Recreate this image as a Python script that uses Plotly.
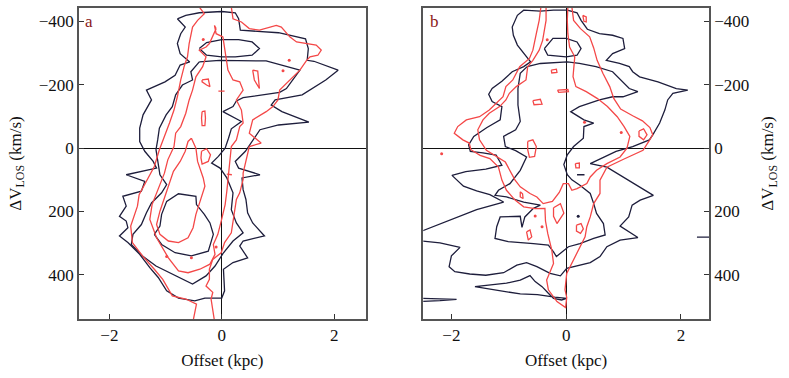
import plotly.graph_objects as go

NAVY = "#1e1e3c"
RED = "#f44848"
FONT = "Liberation Serif"

# ---- panel a : contour paths, (offset kpc, dV km/s) ----
a_black = [
    [(-0.79, -408), (-0.64, -419), (-0.40, -427), (0, -431), (0.24, -427), (0.30, -408), (0.33, -372),
     (0.54, -369), (1.01, -364), (1.49, -345), (1.54, -314), (1.52, -277), (1.64, -274), (2.07, -246),
     (1.85, -215), (1.43, -168), (0.95, -152), (0.88, -136), (1.07, -115), (1.55, -82), (1.01, -73),
     (0.68, -58), (0.54, -21), (0.42, 10), (0.24, 42), (0.30, 63), (0.68, 84), (0.36, 94), (0.38, 131),
     (0.43, 162), (0.46, 204), (0.55, 236), (0.76, 277), (0.38, 293), (0.32, 309), (0.46, 346),
     (0.20, 361), (0.03, 382), (0.05, 450), (0, 473), (-0.30, 473), (-0.48, 482), (-0.77, 473),
     (-0.98, 450), (-1.13, 408), (-1.28, 377), (-1.46, 335), (-1.67, 298), (-1.82, 277), (-1.67, 251),
     (-1.70, 230), (-1.82, 215), (-1.70, 183), (-1.76, 152), (-1.43, 136), (-1.37, 105), (-1.70, 84),
     (-1.16, 63), (-1.22, 42), (-1.37, 10), (-1.46, -21), (-1.46, -63), (-1.40, -105), (-1.25, -152),
     (-1.34, -183), (-1.01, -209), (-0.83, -230), (-0.74, -262), (-0.57, -272), (-0.74, -298),
     (-0.79, -330), (-0.73, -361), (-0.65, -382), (-0.79, -408)],
    [(-0.40, -272), (-0.04, -277), (0.79, -275), (1.39, -246), (1.15, -188), (1.03, -176), (0.38, -159),
     (0.26, -149), (0.20, -131), (0.02, -115), (0.35, -84), (0.17, -61), (0.12, -31), (0.06, 0),
     (-0.06, 26), (-0.18, 47), (-0.03, 63), (0.09, 94), (0.20, 141), (0.17, 194), (0.26, 236),
     (0.38, 267), (0.20, 293), (0.02, 333), (-0.12, 372), (-0.28, 403), (-0.52, 429), (-0.82, 403),
     (-1.17, 372), (-1.41, 340), (-1.61, 304), (-1.58, 272), (-1.43, 241), (-1.34, 204), (-1.25, 173),
     (-1.07, 141), (-0.98, 115), (-1.10, 84), (-1.13, 47), (-1.17, 5), (-1.14, -26), (-1.11, -63),
     (-0.99, -105), (-0.88, -131), (-0.82, -168), (-0.70, -199), (-0.52, -215), (-0.55, -241),
     (-0.40, -272)],
    [(-0.40, -314), (-0.27, -333), (0, -342), (0.30, -342), (0.54, -335), (0.67, -314), (0.54, -293),
     (0.24, -288), (0, -288), (-0.27, -293), (-0.40, -314)],
    [(-1.20, 272), (-1.07, 304), (-0.83, 330), (-0.54, 340), (-0.24, 325), (-0.15, 272), (-0.21, 236),
     (-0.31, 209), (-0.45, 178), (-0.46, 152), (-0.77, 144), (-0.98, 168), (-1.07, 209), (-1.10, 246),
     (-1.20, 272)],
]

a_red = [
    [(-0.40, -445), (-0.31, -424), (-0.43, -403), (-0.52, -382), (-0.58, -330), (-0.61, -288),
     (-0.67, -257), (-0.73, -215), (-0.79, -162), (-0.85, -120), (-0.93, -79), (-1.02, -37),
     (-1.11, 5), (-1.20, 58), (-1.34, 105), (-1.47, 147), (-1.50, 183), (-1.62, 246), (-1.59, 298),
     (-1.41, 340), (-1.20, 382), (-1.05, 414), (-0.88, 466), (-0.64, 476), (-0.45, 492), (-0.51, 545)],
    [(0.17, -445), (0.20, -408), (0.35, -398), (0.49, -377), (0.67, -372), (0.97, -387), (1.06, -382),
     (1.21, -351), (1.33, -335), (1.51, -330), (1.68, -325), (1.77, -309), (1.71, -293), (1.57, -288),
     (1.51, -277), (1.39, -246), (1.21, -215), (1.03, -183), (1.00, -152), (0.91, -131), (0.79, -115),
     (0.55, -89), (0.49, -47), (0.70, -16), (0.49, -5), (0.43, 37), (0.38, 79), (0.38, 99), (0.32, 141),
     (0.26, 162), (0.20, 225), (0.17, 267), (0.05, 298), (-0.01, 330), (-0.16, 351), (-0.22, 382),
     (-0.22, 414), (-0.28, 435), (-0.16, 455), (-0.19, 476), (-0.13, 545)],
    [(-0.10, -377), (-0.16, -351), (-0.22, -330), (-0.28, -319), (-0.40, -309), (-0.28, -288),
     (-0.34, -257), (-0.46, -225), (-0.52, -183), (-0.58, -152), (-0.64, -110), (-0.73, -68),
     (-0.82, -47), (-0.85, -5), (-0.96, 37), (-1.02, 79), (-1.11, 120), (-1.24, 178), (-1.28, 225),
     (-1.16, 283), (-0.95, 346), (-0.77, 387), (-0.60, 393), (-0.39, 382), (-0.21, 366), (-0.12, 335),
     (-0.15, 304), (-0.07, 272), (-0.01, 230), (0.06, 178), (0.09, 136), (0.11, 94), (0.14, 37),
     (0.17, -5), (0.26, -26), (0.32, -68), (0.38, -79), (0.35, -120), (0.26, -152), (0.32, -168),
     (0.38, -183), (0.32, -209), (0.20, -215), (0.11, -246), (0.08, -277), (0.02, -351), (-0.10, -361),
     (-0.13, -387), (-0.10, -377)],
    [(-0.54, -31), (-0.46, 0), (-0.43, 42), (-0.33, 94), (-0.30, 120), (-0.39, 168), (-0.46, 209),
     (-0.51, 251), (-0.60, 283), (-0.77, 298), (-0.95, 293), (-1.10, 272), (-1.16, 241), (-1.10, 199),
     (-1.02, 157), (-0.95, 115), (-0.86, 73), (-0.74, 42), (-0.65, 10), (-0.60, -21), (-0.54, -31)],
    [(-0.35, -115), (-0.30, -117), (-0.29, -94), (-0.30, -71), (-0.35, -71), (-0.36, -94), (-0.35, -115)],
    [(-0.35, -215), (-0.24, -218), (-0.21, -194), (-0.27, -199), (-0.35, -209), (-0.35, -215)],
    [(0.55, -246), (0.64, -243), (0.67, -188), (0.58, -215), (0.55, -246)],
    [(-0.36, 10), (-0.27, 2), (-0.20, 21), (-0.24, 42), (-0.35, 50), (-0.37, 31), (-0.36, 10)],
    [(-0.06, -180), (0.05, -180)],
    [(0.09, 82), (0.18, 84)],
]
a_red_dots = [(-0.33, -343), (1.20, -277), (1.09, -244), (-0.98, 342), (-0.10, 312), (-0.54, 346)]

# ---- panel b ----
b_black = [
    [(-2.55, 292), (-2.20, 299), (-1.85, 313), (-2.00, 340), (-2.04, 374), (-1.94, 390), (-1.68, 397),
     (-1.40, 401), (-1.09, 393), (-0.86, 369), (-0.69, 361), (-0.51, 374), (-0.28, 395), (-0.10, 403),
     (0.01, 379), (0.19, 372), (0.42, 361), (0.59, 342), (0.71, 311), (0.94, 290), (1.25, 282),
     (0.94, 246), (1.09, 217), (1.15, 180), (1.29, 164), (1.52, 149), (1.18, 112), (1.00, 91),
     (0.71, 60), (0.42, 49), (0.70, 26), (0.87, 10), (1.16, -5), (1.45, -26), (1.51, -42), (1.63, -79),
     (1.72, -120), (1.77, -152), (1.86, -173), (2.12, -183), (1.92, -188), (1.60, -209), (1.28, -225),
     (1.16, -241), (1.10, -257), (0.93, -267), (0.70, -277), (0.81, -298), (1.02, -314), (0.99, -346),
     (0.81, -356), (0.58, -361), (0.37, -375), (0.26, -403), (0.19, -427), (0.02, -435), (-0.22, -435),
     (-0.45, -432), (-0.74, -435), (-0.85, -419), (-0.94, -382), (-0.92, -356), (-0.85, -325),
     (-0.74, -298), (-0.62, -272), (-0.74, -257), (-0.94, -241), (-1.12, -211), (-1.29, -188),
     (-1.35, -170), (-1.29, -147), (-1.12, -131), (-1.15, -89), (-1.38, -65), (-1.61, -37),
     (-1.70, -10), (-1.67, 10), (-1.45, 15), (-1.22, 22), (-1.12, 54), (-1.40, 66), (-1.75, 74),
     (-1.99, 86), (-1.79, 120), (-1.56, 135), (-1.33, 147), (-1.09, 170), (-1.56, 194), (-1.97, 222),
     (-2.23, 240), (-2.55, 264)],
    [(-0.68, -257), (-0.45, -267), (0.02, -272), (0.23, -267), (0.52, -257), (0.81, -241), (1.10, -188),
     (1.25, -178), (0.99, -162), (0.81, -162), (0.58, -152), (0.23, -131), (0.08, -115), (0.31, -89),
     (0.48, -79), (0.31, -68), (0.30, -31), (0.13, -5), (0.02, 21), (-0.04, 52), (0.02, 84),
     (0.10, 100), (0.24, 117), (0.42, 143), (0.48, 175), (0.53, 206), (0.65, 238), (0.68, 274),
     (0.48, 285), (0.24, 301), (0.04, 311), (-0.17, 342), (-0.22, 327), (-0.31, 306), (-0.57, 301),
     (-1.01, 295), (-1.24, 285), (-1.21, 248), (-1.15, 217), (-0.80, 215), (-0.77, 250), (-0.72, 217),
     (-0.57, 190), (-0.45, 180), (-0.74, 170), (-1.04, 154), (-1.24, 149), (-1.18, 133), (-0.98, 112),
     (-0.80, 70), (-0.69, 28), (-0.88, 8), (-1.06, -5), (-1.09, -37), (-0.88, -58), (-0.80, -84),
     (-0.84, -136), (-0.84, -188), (-0.80, -236), (-0.68, -257)],
    [(-0.38, -314), (-0.23, -346), (0, -346), (0.19, -335), (0.26, -314), (0.19, -293), (0, -288),
     (-0.32, -293), (-0.38, -314)],
    [(-1.59, 437), (-1.38, 432), (-1.04, 426), (-0.80, 416), (-0.63, 402), (-0.54, 421), (-0.42, 437),
     (-0.31, 458), (-0.22, 474), (-0.08, 479), (0.01, 474), (-0.20, 470), (-0.50, 462), (-0.80, 460),
     (-1.21, 447), (-1.59, 437)],
    [(-2.55, 474), (-2.20, 476), (-1.91, 477), (-2.20, 481), (-2.55, 484)],
    [(2.28, 281), (2.55, 281)],
    [(0.19, 84), (0.32, 84)],
]
b_black_dots = [(0.21, 215)]

b_red = [
    [(-0.44, -445), (-0.47, -403), (-0.52, -361), (-0.58, -309), (-0.64, -283), (-0.81, -257),
     (-0.93, -215), (-1.05, -194), (-1.10, -162), (-1.22, -141), (-1.34, -120), (-1.51, -99),
     (-1.74, -89), (-1.89, -68), (-1.95, -47), (-1.80, -26), (-1.69, -16), (-1.66, 5), (-1.50, 23),
     (-1.33, 33), (-1.18, 60), (-1.12, 101), (-1.04, 133), (-0.89, 164), (-0.74, 185), (-0.54, 191),
     (-0.37, 190), (-0.36, 230), (-0.32, 270), (-0.25, 322), (-0.22, 364), (-0.34, 416), (-0.31, 447),
     (-0.16, 484), (-0.01, 503), (0.01, 471), (-0.02, 447), (0.01, 395), (0.10, 364), (0.19, 332),
     (0.24, 311), (0.33, 280), (0.36, 248), (0.42, 217), (0.48, 175), (0.59, 143), (0.59, 101),
     (0.71, 60), (1.00, 35), (1.34, 7), (1.44, -21), (1.51, -42), (1.46, -65), (1.33, -86),
     (1.16, -102), (0.95, -123), (0.83, -157), (0.76, -194), (0.64, -236), (0.54, -277), (0.48, -316),
     (0.41, -351), (0.25, -377), (0.13, -403), (0.10, -445)],
    [(-0.35, -445), (-0.35, -403), (-0.41, -340), (-0.47, -309), (-0.58, -277), (-0.67, -257),
     (-0.70, -215), (-0.87, -194), (-0.99, -173), (-1.05, -152), (-1.16, -131), (-1.34, -110),
     (-1.45, -89), (-1.54, -58), (-1.51, -26), (-1.39, 7), (-1.06, 44), (-0.98, 70), (-0.89, 101),
     (-0.80, 122), (-0.63, 143), (-0.51, 154), (-0.40, 175), (-0.24, 168), (-0.12, 140), (-0.05, 112),
     (0.04, 112), (0.10, 133), (0.19, 128), (0.36, 112), (0.42, 91), (0.53, 70), (0.71, 49), (0.94, 28),
     (1.06, 0), (1.11, -37), (1.01, -68), (0.89, -99), (0.72, -131), (0.54, -157), (0.35, -178),
     (0.17, -194), (0.12, -225), (0.15, -288), (0.06, -319), (0.03, -361), (0.02, -403), (0.03, -445)],
    [(-0.67, -21), (-0.58, -26), (-0.52, -5), (-0.55, 26), (-0.64, 29), (-0.67, 5), (-0.67, -21)],
    [(-0.26, -246), (-0.17, -249), (-0.16, -239), (-0.25, -237), (-0.26, -246)],
    [(-0.15, -183), (0.03, -185), (0.04, -178), (-0.13, -176), (-0.15, -183)],
    [(-0.58, -150), (-0.45, -154), (-0.42, -139), (-0.56, -137), (-0.58, -150)],
    [(0.29, -419), (0.35, -414), (0.35, -398), (0.31, -400), (0.29, -419)],
    [(1.27, -54), (1.35, -61), (1.41, -42), (1.35, -26), (1.27, -37), (1.27, -54)],
    [(0.18, 243), (0.26, 238), (0.30, 255), (0.25, 269), (0.18, 262), (0.18, 243)],
    [(-0.69, 264), (-0.63, 258), (-0.60, 280), (-0.66, 290), (-0.69, 264)],
    [(0.16, 49), (0.23, 47), (0.23, 62), (0.17, 62), (0.16, 49)],
    [(-0.22, 188), (-0.10, 175), (-0.04, 205), (-0.16, 238), (-0.22, 215), (-0.22, 188)],
    [(-0.80, 138), (-0.76, 144), (-0.75, 159), (-0.80, 154), (-0.80, 138)],
]
b_red_dots = [(-0.33, -342), (0.32, -82), (0.96, -49), (-2.17, 18), (-0.54, 214), (-0.42, 248)]

v_ticks = [-400, -200, 0, 200, 400]
x_ticks = [-2, 0, 2]
v_range = [539, -442]


def path_xy(paths):
    xs, ys = [], []
    for p in paths:
        for x, y in p:
            xs.append(x)
            ys.append(y)
        xs.append(None)
        ys.append(None)
    return xs, ys


def add_panel(fig, black, red, black_dots, red_dots, xa, ya):
    for paths, color in [(black, NAVY), (red, RED)]:
        xs, ys = path_xy(paths)
        fig.add_trace(go.Scatter(x=xs, y=ys, mode="lines", xaxis=xa, yaxis=ya,
                                 line=dict(color=color, width=1.3), hoverinfo="skip"))
    for dots, color in [(black_dots, NAVY), (red_dots, RED)]:
        if dots:
            fig.add_trace(go.Scatter(x=[d[0] for d in dots], y=[d[1] for d in dots], mode="markers",
                                     xaxis=xa, yaxis=ya, marker=dict(color=color, size=3),
                                     hoverinfo="skip"))


fig = go.Figure()
add_panel(fig, a_black, a_red, [], a_red_dots, "x", "y")
add_panel(fig, b_black, b_red, b_black_dots, b_red_dots, "x2", "y2")

axis_common = dict(showgrid=False, ticks="inside", ticklen=5, tickwidth=1, tickcolor="#333",
                   showline=True, mirror=True, linecolor="#555", linewidth=1.5,
                   zeroline=True, zerolinecolor="#111", zerolinewidth=1,
                   tickfont=dict(family=FONT, size=17, color="#111"))
ytitle = dict(text="ΔV<sub>LOS</sub> (km/s)", font=dict(family=FONT, size=17, color="#111"), standoff=13)
xtitle = dict(text="Offset (kpc)", font=dict(family=FONT, size=17, color="#111"), standoff=10)

fig.update_layout(
    width=789, height=378,
    margin=dict(l=79, r=80, t=6, b=59),
    plot_bgcolor="white", paper_bgcolor="white",
    showlegend=False,
    xaxis=dict(domain=[0, 0.455], range=[-2.54, 2.56], tickvals=x_ticks, anchor="y",
               title=xtitle, **axis_common),
    yaxis=dict(domain=[0, 1], range=v_range, tickvals=v_ticks, anchor="x", title=ytitle, **axis_common),
    xaxis2=dict(domain=[0.5465, 1], range=[-2.49, 2.49], tickvals=x_ticks, anchor="y2",
                title=xtitle, **axis_common),
    yaxis2=dict(domain=[0, 1], range=v_range, tickvals=v_ticks, anchor="x2", side="right",
                title=ytitle, **axis_common),
    annotations=[
        dict(text="a", xref="x domain", yref="y domain", x=0.015, y=0.995, xanchor="left",
             yanchor="top", showarrow=False, font=dict(family=FONT, size=17, color="#8b1a1a")),
        dict(text="b", xref="x2 domain", yref="y2 domain", x=0.015, y=0.995, xanchor="left",
             yanchor="top", showarrow=False, font=dict(family=FONT, size=17, color="#8b1a1a")),
    ],
)

fig.write_html("out.html", config={"displayModeBar": False},
               post_script="document.body.style.margin='0';")
